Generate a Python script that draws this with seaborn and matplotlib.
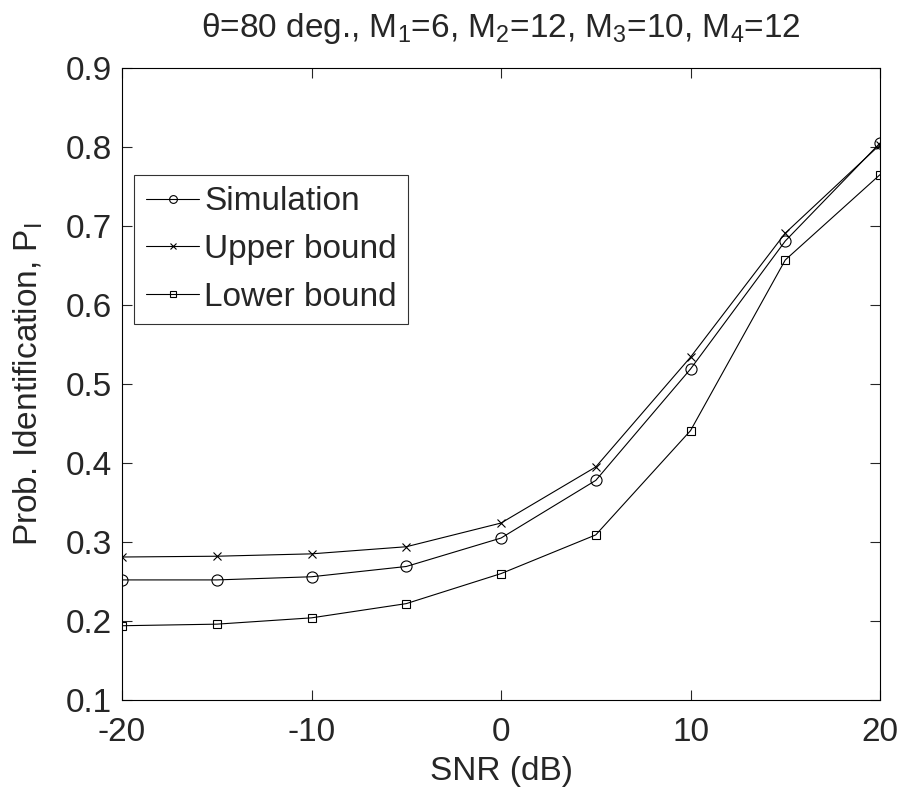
import numpy as np
import pandas as pd
import matplotlib
matplotlib.use('Agg')
import matplotlib.pyplot as plt
import seaborn as sns

# ── Data ─────────────────────────────────────────────────────────────────────
snr_db = [-20, -15, -10, -5, 0, 5, 10, 15, 20]
simulation = [0.252, 0.252, 0.256, 0.269, 0.305, 0.378, 0.519, 0.681, 0.805]
upper_bound = [0.281, 0.282, 0.285, 0.294, 0.324, 0.395, 0.534, 0.691, 0.803]
lower_bound = [0.194, 0.196, 0.204, 0.222, 0.260, 0.309, 0.441, 0.657, 0.765]

series_names = ['Simulation', 'Upper bound', 'Lower bound']
series_markers = {'Simulation': 'o', 'Upper bound': 'x', 'Lower bound': 's'}
x_ticks = [-20, -10, 0, 10, 20]
y_ticks = [0.1, 0.2, 0.3, 0.4, 0.5, 0.6, 0.7, 0.8, 0.9]

df = pd.DataFrame({
    'SNR': snr_db * 3,
    'P': simulation + upper_bound + lower_bound,
    'series': sum([[n] * len(snr_db) for n in series_names], []),
})

sns.set_style('ticks')
plt.rcParams['font.family'] = ['Liberation Sans', 'DejaVu Sans']
plt.rcParams['mathtext.fontset'] = 'custom'
plt.rcParams['mathtext.rm'] = 'Liberation Sans'
plt.rcParams['mathtext.it'] = 'Liberation Sans'

FS = 24

fig = plt.figure(figsize=(9, 8), dpi=100)
ax = fig.add_axes([0.1356, 0.125, 0.8422, 0.79])

marker_sizes = {'Simulation': 8, 'Upper bound': 6, 'Lower bound': 6}
for name in series_names:
    sub = df[df['series'] == name]
    sns.lineplot(data=sub, x='SNR', y='P', ax=ax, color='black', linewidth=0.8,
                 marker=series_markers[name], markersize=marker_sizes[name],
                 markerfacecolor='none', markeredgecolor='black',
                 markeredgewidth=0.8, label=name)

ax.set_xlim(-20, 20)
ax.set_ylim(0.1, 0.9)
ax.set_xticks(x_ticks)
ax.set_yticks(y_ticks)
ax.set_xticklabels([str(t) for t in x_ticks])
ax.set_yticklabels([f'{t:.1f}' for t in y_ticks])
ax.tick_params(direction='in', length=7, width=0.8, labelsize=FS,
               top=True, right=True)
ax.tick_params(axis='x', pad=12)
ax.tick_params(axis='y', pad=7)
for sp in ax.spines.values():
    sp.set_visible(True)
    sp.set_linewidth(0.8)
    sp.set_color('black')

ax.set_xlabel('SNR (dB)', fontsize=FS, labelpad=6)
ax.set_ylabel('Prob. Identification, P$_{\\rm I}$', fontsize=FS, labelpad=15)
ax.set_title('$\\theta$=80 deg., M$_1$=6, M$_2$=12, M$_3$=10, M$_4$=12',
             fontsize=FS, pad=22)

leg = ax.legend(loc='upper left', bbox_to_anchor=(0.016, 0.831), fontsize=FS,
                frameon=True, fancybox=False, edgecolor='black',
                handlelength=1.6, handletextpad=0.15, borderpad=0.35,
                labelspacing=0.5, borderaxespad=0, markerscale=0.7)
leg.get_frame().set_linewidth(0.8)

plt.savefig('out.png', dpi=100, facecolor='white')
